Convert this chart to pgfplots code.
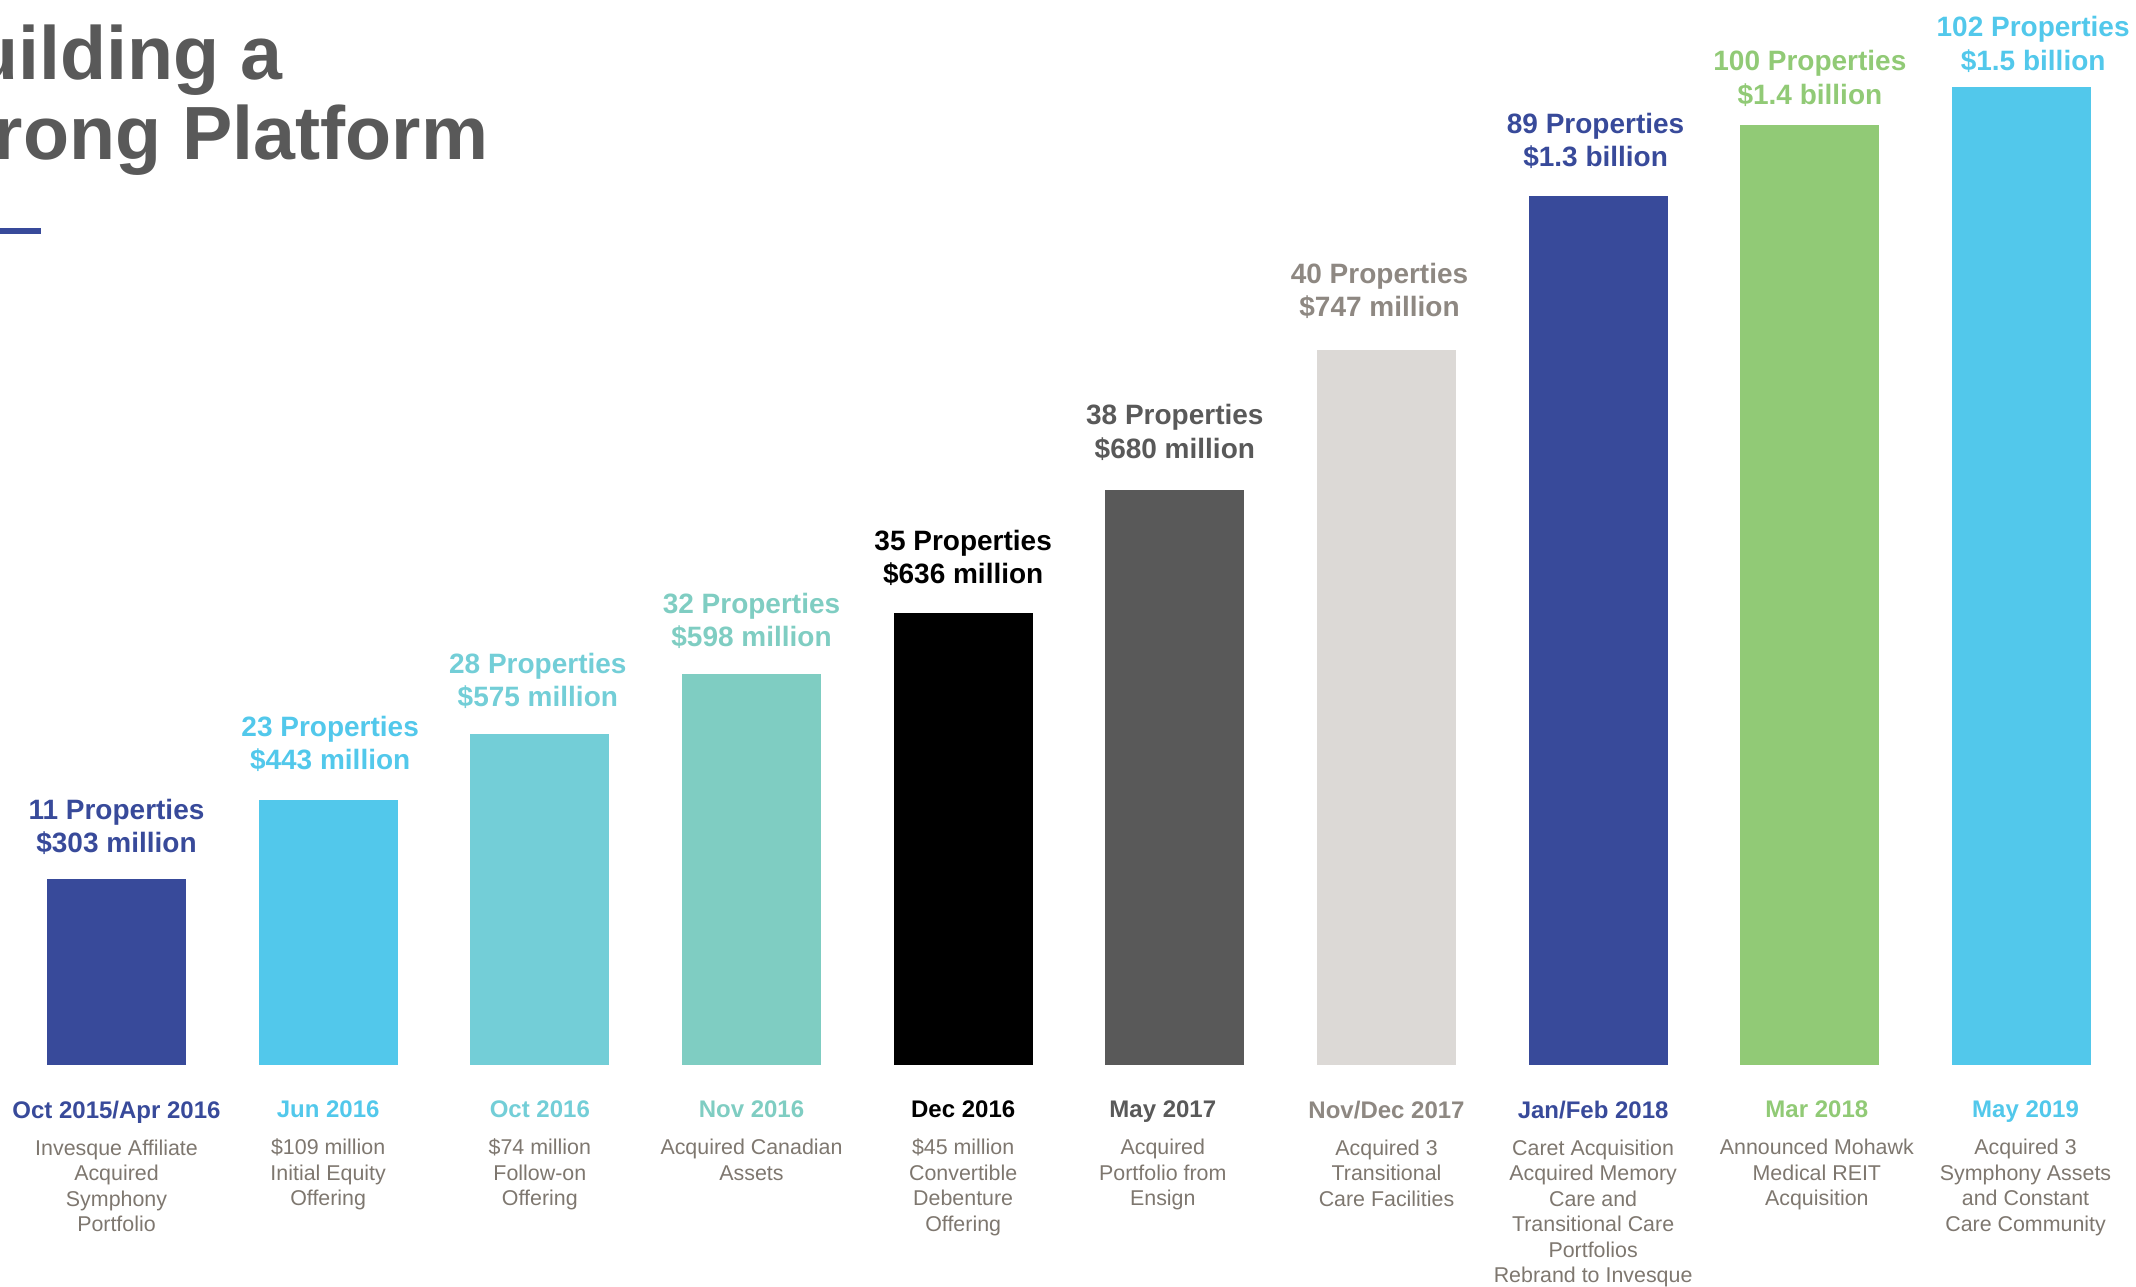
\documentclass[border=0pt]{standalone}
\usepackage{fontspec}
\setmainfont{Liberation Sans}
\usepackage{pgfplots}
\pgfplotsset{compat=1.18}
\definecolor{cA}{HTML}{384A9A}
\definecolor{cB}{HTML}{52C8EB}
\definecolor{cC}{HTML}{73CED7}
\definecolor{cD}{HTML}{7FCDC2}
\definecolor{cF}{HTML}{595959}
\definecolor{cG}{HTML}{DCD9D6}
\definecolor{cGt}{HTML}{8E8882}
\definecolor{cI}{HTML}{91CA76}
\definecolor{descgray}{HTML}{7E776F}
\definecolor{titlegray}{HTML}{595959}
\newcommand{\dl}[2]{\textcolor{#1}{\fontsize{12}{12.75}\selectfont\bfseries #2}}
\begin{document}
\begin{tikzpicture}
\useasboundingbox (0,0) rectangle (1068pt,643pt);
\clip (0,0) rectangle (1068pt,643pt);
\node[anchor=base west, inner sep=0pt, text=titlegray, font=\fontsize{37.7}{40}\selectfont\bfseries] at (-14pt,603pt) {uilding a};
\node[anchor=base west, inner sep=0pt, text=titlegray, font=\fontsize{37.7}{40}\selectfont\bfseries] at (-3.3pt,563pt) {rong Platform};
\fill[cA] (0pt,526pt) rectangle (20.5pt,529pt);
\begin{axis}[
  at={(0pt,110.5pt)}, anchor=south west,
  scale only axis, width=1068pt, height=532.5pt,
  xmin=-0.5504, xmax=9.5408, ymin=0, ymax=1065,
  clip=false,
  axis line style={draw=none},
  ytick=\empty, major tick length=0pt,
  xtick={0,1,2,3,4,4.943,6,6.976,8.033,9.019},
  xticklabels={
    {\dl{cA}{Oct 2015/Apr 2016}\\[5.75pt]Invesque Affiliate\\Acquired\\Symphony\\Portfolio},
    {\dl{cB}{Jun 2016}\\[5.75pt]\$109 million\\Initial Equity\\Offering},
    {\dl{cC}{Oct 2016}\\[5.75pt]\$74 million\\Follow-on\\Offering},
    {\dl{cD}{Nov 2016}\\[5.75pt]Acquired Canadian\\Assets},
    {\dl{black}{Dec 2016}\\[5.75pt]\$45 million\\Convertible\\Debenture\\Offering},
    {\dl{cF}{May 2017}\\[5.75pt]Acquired\\Portfolio from\\Ensign},
    {\dl{cGt}{Nov/Dec 2017}\\[5.75pt]Acquired 3\\Transitional\\Care Facilities},
    {\dl{cA}{Jan/Feb 2018}\\[5.75pt]Caret Acquisition\\Acquired Memory\\Care and\\Transitional Care\\Portfolios\\Rebrand to Invesque},
    {\dl{cI}{Mar 2018}\\[5.75pt]Announced Mohawk\\Medical REIT\\Acquisition},
    {\dl{cB}{May 2019}\\[5.75pt]Acquired 3\\Symphony Assets\\and Constant\\Care Community}
  },
  xticklabel style={align=center, anchor=north, inner sep=0pt, yshift=-17.75pt,
    text=descgray, font=\fontsize{10.7}{12.75}\selectfont},
  ybar, bar width=69.5pt,
  every node near coord/.append style={align=center, inner sep=0pt, anchor=south,
    font=\fontsize{14}{16.6}\selectfont\bfseries},
]
\addplot[fill=cA, draw=none, bar shift=0pt, nodes near coords={11 Properties\\\$303 million},
  every node near coord/.append style={text=cA, yshift=11.9pt}] coordinates {(0,186)};
\addplot[fill=cB, draw=none, bar shift=0pt, nodes near coords={23 Properties\\\$443 million},
  every node near coord/.append style={text=cB, yshift=14pt, xshift=1pt}] coordinates {(1,265)};
\addplot[fill=cC, draw=none, bar shift=0pt, nodes near coords={28 Properties\\\$575 million},
  every node near coord/.append style={text=cC, yshift=12.6pt, xshift=-1pt}] coordinates {(2,331)};
\addplot[fill=cD, draw=none, bar shift=0pt, nodes near coords={32 Properties\\\$598 million},
  every node near coord/.append style={text=cD, yshift=12.6pt}] coordinates {(3,391)};
\addplot[fill=black, draw=none, bar shift=0pt, nodes near coords={35 Properties\\\$636 million},
  every node near coord/.append style={text=black, yshift=13.3pt}] coordinates {(4,452)};
\addplot[fill=cF, draw=none, bar shift=0pt, nodes near coords={38 Properties\\\$680 million},
  every node near coord/.append style={text=cF, yshift=14.7pt}] coordinates {(5,575)};
\addplot[fill=cG, draw=none, bar shift=0pt, nodes near coords={40 Properties\\\$747 million},
  every node near coord/.append style={text=cGt, yshift=15.3pt, xshift=-3.5pt}] coordinates {(6,715)};
\addplot[fill=cA, draw=none, bar shift=0pt, nodes near coords={89 Properties\\\$1.3 billion},
  every node near coord/.append style={text=cA, yshift=13.3pt, xshift=-1.3pt}] coordinates {(7,869)};
\addplot[fill=cI, draw=none, bar shift=0pt, nodes near coords={100 Properties\\\$1.4 billion},
  every node near coord/.append style={text=cI, yshift=9.2pt}] coordinates {(8,940)};
\addplot[fill=cB, draw=none, bar shift=0pt, nodes near coords={102 Properties\\\$1.5 billion},
  every node near coord/.append style={text=cB, yshift=7.2pt, xshift=5.8pt}] coordinates {(9,978)};
\end{axis}
\end{tikzpicture}
\end{document}
